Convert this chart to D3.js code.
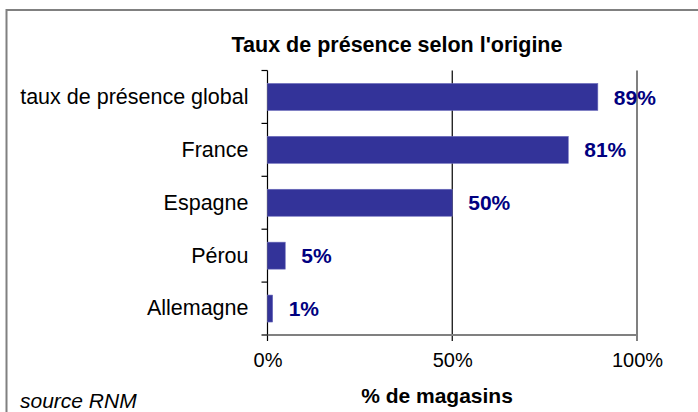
<!DOCTYPE html>
<html>
<head>
<meta charset="utf-8">
<script src="https://cdn.jsdelivr.net/npm/d3@7"></script>
<style>
  body { margin: 0; background: #fff; }
  svg text { font-family: "Liberation Sans", Arial, sans-serif; }
</style>
</head>
<body>
<div id="chart"></div>
<script>
// data
var categories = ["taux de présence global", "France", "Espagne", "Pérou", "Allemagne"];
var values = [89.4, 81.4, 50, 4.8, 1.4];
var xTicks = [0, 50, 100];

var W = 698, H = 412;
var svg = d3.select("#chart").append("svg").attr("width", W).attr("height", H);

// outer frame (runs off the right and bottom edge)
svg.append("rect")
  .attr("x", 6.5).attr("y", 10)
  .attr("width", 900).attr("height", 600)
  .attr("fill", "none").attr("stroke", "#808080").attr("stroke-width", 2);

var plotLeft = 267.5, plotRight = 637, plotTop = 70.5, plotBottom = 335;

var xs = d3.scaleLinear().domain([0, 100]).range([plotLeft, plotRight]);
var ys = d3.scaleBand().domain(categories).range([plotTop, plotBottom])
  .paddingInner(0.49).paddingOuter(0.245);

// title
svg.append("text")
  .attr("x", 397).attr("y", 52)
  .attr("text-anchor", "middle")
  .style("font-size", "21.5px").style("font-weight", "bold")
  .text("Taux de présence selon l'origine");

// vertical lines: 0% and 50% black, 100% grey
svg.selectAll(".vline")
  .data(xTicks)
  .enter()
  .append("line")
  .attr("class", "vline")
  .attr("x1", d => xs(d)).attr("x2", d => xs(d))
  .attr("y1", plotTop).attr("y2", plotBottom + 6)
  .attr("stroke", d => d == 100 ? "#808080" : "#000")
  .attr("stroke-width", d => d == 100 ? 2 : 1.2);

// bottom axis line
svg.append("line")
  .attr("x1", plotLeft).attr("x2", plotRight)
  .attr("y1", plotBottom).attr("y2", plotBottom)
  .attr("stroke", "#808080").attr("stroke-width", 2);

// category boundary ticks on the left
var step = ys.step();
var bounds = categories.map(c => ys(c) - step * 0.245).concat([plotBottom]);
svg.selectAll(".ytick")
  .data(bounds)
  .enter()
  .append("line")
  .attr("class", "ytick")
  .attr("x1", plotLeft - 6).attr("x2", plotLeft)
  .attr("y1", d => d).attr("y2", d => d)
  .attr("stroke", "#000").attr("stroke-width", 1.2);

// bars
svg.selectAll(".bar")
  .data(values)
  .enter()
  .append("rect")
  .attr("class", "bar")
  .attr("x", plotLeft)
  .attr("y", (d, i) => ys(categories[i]))
  .attr("width", d => xs(d) - plotLeft)
  .attr("height", ys.bandwidth())
  .attr("fill", "#333399")
  .attr("stroke", "#6b6bbb").attr("stroke-width", 0.6);

// value labels
svg.selectAll(".val")
  .data(values)
  .enter()
  .append("text")
  .attr("class", "val")
  .attr("x", d => xs(d) + 16)
  .attr("y", (d, i) => ys(categories[i]) + ys.bandwidth() / 2)
  .attr("dy", "0.36em")
  .attr("fill", "#000080")
  .style("font-size", "21px").style("font-weight", "bold")
  .text(d => Math.round(d) + "%");

// category labels
svg.append("g")
  .attr("transform", "translate(" + plotLeft + ",0)")
  .call(d3.axisLeft(ys).tickSize(0).tickPadding(19))
  .call(g => g.select(".domain").remove())
  .selectAll("text")
  .style("font-size", "21.5px")
  .style("font-family", "'Liberation Sans', Arial, sans-serif")
  .attr("fill", "#000");

// x tick labels
svg.append("g")
  .attr("transform", "translate(0," + plotBottom + ")")
  .call(d3.axisBottom(xs).tickValues(xTicks).tickSize(0).tickFormat(d => d + "%"))
  .call(g => g.select(".domain").remove())
  .selectAll("text")
  .attr("y", 31.5).attr("dy", 0)
  .style("font-size", "20px")
  .style("font-family", "'Liberation Sans', Arial, sans-serif")
  .attr("fill", "#000");

// axis title
svg.append("text")
  .attr("x", 437).attr("y", 403)
  .attr("text-anchor", "middle")
  .style("font-size", "21px").style("font-weight", "bold")
  .text("% de magasins");

// source note
svg.append("text")
  .attr("x", 20).attr("y", 408)
  .style("font-size", "21px").style("font-style", "italic")
  .text("source RNM");
</script>
</body>
</html>
